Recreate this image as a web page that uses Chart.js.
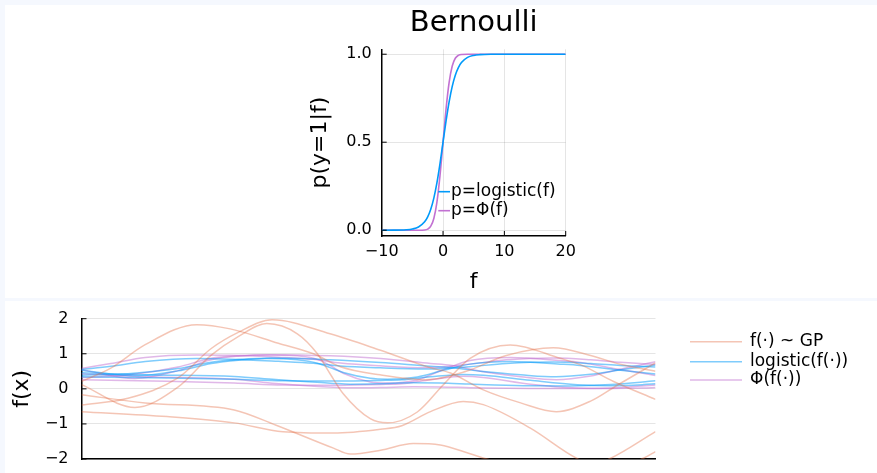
<!DOCTYPE html>
<html><head><meta charset="utf-8">
<script src="https://cdn.jsdelivr.net/npm/chart.js@4/dist/chart.umd.min.js"></script>
<style>
html,body{margin:0;padding:0;background:#f5f8fe;width:877px;height:473px;overflow:hidden;}
.panel{position:absolute;background:#fff;}
canvas{position:absolute;}
</style></head><body>
<div class="panel" style="left:5px;top:5px;width:872px;height:293px"></div>
<div class="panel" style="left:5px;top:301px;width:872px;height:172px"></div>
<canvas id="top" width="807" height="293" style="left:70px;top:5px"></canvas>
<canvas id="bottom" width="872" height="172" style="left:5px;top:301px"></canvas>
<script>
// ---------- top panel data ----------
const linkF = [-10,-8,-6,-5,-4,-3,-2.5,-2,-1.5,-1,-0.5,0,0.5,1,1.5,2,2.5,3,4,5,6,8,10,15,20];
const pLogistic = [0.00005,0.0003,0.0025,0.0067,0.018,0.0474,0.0759,0.1192,0.1824,0.2689,0.3775,0.5,0.6225,0.7311,0.8176,0.8808,0.9241,0.9526,0.982,0.9933,0.9975,0.9997,1,1,1];
const pProbit = [0,0,0,0,0.00003,0.00135,0.0062,0.0228,0.0668,0.1587,0.3085,0.5,0.6915,0.8413,0.9332,0.9772,0.9938,0.9987,1,1,1,1,1,1,1];
const topXTicks = [-10,0,10,20];
const topXLabels = ['\u221210','0','10','20'];
const topYTicks = [0,0.5,1];
const topYLabels = ['0.0','0.5','1.0'];
const topSeriesNames = ['p=logistic(f)','p=\u03A6(f)'];

// ---------- bottom panel data (x in % of input range) ----------
const gpX1 = [0,5.1,11.1,20.1,25.9,34.3,40.4,45.1,52,60,67,74,82.2,88.7,93.9,100];
const gpF1 = [0.21,0.59,1.26,1.83,1.71,1.3,1.0,0.63,0.4,0.26,0.5,0.95,1.17,0.95,0.7,0.5];
const gpLogistic1 = [0.5523,0.6434,0.7790,0.8618,0.8468,0.7858,0.7311,0.6525,0.5987,0.5646,0.6225,0.7211,0.7631,0.7211,0.6682,0.6225];
const gpPhi1 = [0.5832,0.7224,0.8962,0.9664,0.9564,0.9032,0.8413,0.7357,0.6554,0.6026,0.6915,0.8289,0.8790,0.8289,0.7580,0.6915];

const gpX2 = [0,8.1,16.8,22.6,27.3,33.2,43.3,52.1,60.8,64.3,70.0,76.5,82.7,88.7,93.4,100];
const gpF2 = [-0.46,-0.27,0.31,1.15,1.61,1.97,1.57,1.1,0.6,0.45,-0.03,-0.4,-0.65,-0.35,0.11,0.74];
const gpLogistic2 = [0.3870,0.4329,0.5769,0.7595,0.8334,0.8776,0.8278,0.7503,0.6457,0.6106,0.4925,0.4013,0.3430,0.4134,0.5275,0.6770];
const gpPhi2 = [0.3228,0.3936,0.6217,0.8749,0.9463,0.9756,0.9418,0.8643,0.7257,0.6736,0.4880,0.3446,0.2578,0.3632,0.5438,0.7704];

const gpX3 = [0,9.3,16.8,22.6,27.3,32.3,37.6,41.1,43.3,45.6,50.3,53.3,58.5,63.0,67.7,74.7,83.4,86.9,92.7,100];
const gpF3 = [0.12,-0.53,0.05,0.96,1.49,1.86,1.57,1.0,0.43,-0.14,-0.85,-0.97,-0.66,0.11,0.87,1.25,0.87,0.69,0.21,-0.3];
const gpLogistic3 = [0.5300,0.3705,0.5125,0.7231,0.8160,0.8653,0.8278,0.7311,0.6059,0.4651,0.2994,0.2749,0.3407,0.5275,0.7047,0.7773,0.7047,0.6660,0.5523,0.4256];
const gpPhi3 = [0.5478,0.2981,0.5199,0.8315,0.9319,0.9686,0.9418,0.8413,0.6664,0.4443,0.1977,0.1660,0.2546,0.5438,0.8078,0.8944,0.8078,0.7549,0.5832,0.3821];

const gpX4 = [0,11.1,26.6,33.8,43.9,46.8,52.1,57.8,62.5,67.7,70.6,78.2,85.0,92.2,100];
const gpF4 = [-0.17,-0.4,-0.6,-1.03,-1.69,-1.86,-1.75,-1.56,-1.6,-1.85,-2.0,-2.35,-2.4,-1.98,-1.22];
const gpLogistic4 = [0.4576,0.4013,0.3543,0.2631,0.1558,0.1347,0.1480,0.1736,0.1680,0.1359,0.1192,0.0871,0.0832,0.1213,0.2279];
const gpPhi4 = [0.4325,0.3446,0.2743,0.1515,0.0455,0.0314,0.0401,0.0594,0.0548,0.0322,0.0228,0.0094,0.0082,0.0239,0.1112];

const gpX5 = [0,14.9,26.6,35.1,43.9,52.1,55.8,60.8,66.5,70.0,78.2,86.4,92.2,97.9,100];
const gpF5 = [-0.65,-0.79,-0.97,-1.22,-1.26,-1.15,-1.05,-0.65,-0.36,-0.45,-1.12,-1.99,-2.3,-1.98,-1.79];
const gpLogistic5 = [0.3430,0.3122,0.2749,0.2279,0.2210,0.2405,0.2592,0.3430,0.4110,0.3894,0.2460,0.1203,0.0911,0.1213,0.1431];
const gpPhi5 = [0.2578,0.2148,0.1660,0.1112,0.1038,0.1251,0.1469,0.2578,0.3594,0.3264,0.1314,0.0233,0.0107,0.0239,0.0367];

const botYTicks = [-2,-1,0,1,2];
const botYLabels = ['\u22122','\u22121','0','1','2'];
const botSeriesNames = ['f(\u00B7) ~ GP','logistic(f(\u00B7))','\u03A6(f(\u00B7))'];

// ---------- helpers ----------
const FONT = '"DejaVu Sans", sans-serif';
const BLUE = '#009AFA', PURPLE = '#C271D2';
const GP_ORANGE = 'rgba(227,111,71,0.4)', GP_BLUE = 'rgba(0,154,250,0.5)', GP_PURPLE = 'rgba(194,113,210,0.5)';
const pts = (xs, ys) => xs.map((x, i) => ({x: x, y: ys[i]}));

const innerTicks = {
  id: 'innerTicks',
  afterDraw(chart, args, opts) {
    const ctx = chart.ctx, a = chart.chartArea, len = opts.len || 5;
    ctx.save();
    ctx.strokeStyle = '#000'; ctx.lineWidth = 1;
    (opts.axes || []).forEach(id => {
      const s = chart.scales[id];
      s.ticks.forEach(t => {
        const p = s.getPixelForValue(t.value);
        ctx.beginPath();
        if (id === 'y') { ctx.moveTo(a.left, p); ctx.lineTo(a.left + len, p); }
        else { ctx.moveTo(p, a.bottom); ctx.lineTo(p, a.bottom - len); }
        ctx.stroke();
      });
    });
    ctx.restore();
  }
};

const seriesKey = {
  id: 'seriesKey',
  afterDraw(chart, args, o) {
    if (!o || !o.items) return;
    const ctx = chart.ctx;
    ctx.save();
    ctx.font = o.fontSize + 'px ' + FONT;
    ctx.textBaseline = 'middle';
    ctx.textAlign = 'left';
    o.items.forEach((it, i) => {
      const y = o.ys[i];
      ctx.strokeStyle = it.color; ctx.lineWidth = it.width;
      ctx.beginPath(); ctx.moveTo(o.x0, y); ctx.lineTo(o.x1, y); ctx.stroke();
      ctx.fillStyle = '#000';
      ctx.fillText(it.text, o.tx, y);
    });
    ctx.restore();
  }
};

const tickFont = {family: FONT, size: 16};
const guideFont = {family: FONT, size: 22};
const GRID = 'rgba(0,0,0,0.1)';
const noPad = s => { s.paddingTop = 0; s.paddingBottom = 0; };

// ---------- top chart ----------
new Chart(document.getElementById('top'), {
  type: 'line',
  data: {datasets: [
    {label: topSeriesNames[0], data: pts(linkF, pLogistic), borderColor: BLUE, borderWidth: 1.6, pointRadius: 0, cubicInterpolationMode: 'monotone', fill: false},
    {label: topSeriesNames[1], data: pts(linkF, pProbit), borderColor: PURPLE, borderWidth: 1.6, pointRadius: 0, cubicInterpolationMode: 'monotone', fill: false}
  ]},
  options: {
    responsive: false, animation: false, devicePixelRatio: 1,
    layout: {padding: {left: 230, right: 311.3, top: 0, bottom: 2.8}},
    plugins: {
      legend: {display: false}, tooltip: {enabled: false},
      title: {display: true, fullSize: false, text: 'Bernoulli', color: '#000', font: {family: FONT, size: 29, weight: 'normal'}, padding: {top: 1, bottom: 8.5}},
      innerTicks: {axes: ['x', 'y'], len: 5},
      seriesKey: {fontSize: 17, x0: 368.3, x1: 380, tx: 381, ys: [186.7, 205.7],
        items: [{text: topSeriesNames[0], color: BLUE, width: 1.6}, {text: topSeriesNames[1], color: PURPLE, width: 1.6}]}
    },
    scales: {
      x: {type: 'linear', min: -10, max: 20,
        afterBuildTicks: s => { s.ticks = topXTicks.map(v => ({value: v})); },
        ticks: {callback: (v, i) => topXLabels[i], font: tickFont, color: '#000', padding: 6, maxRotation: 0, autoSkip: false},
        grid: {color: GRID, drawTicks: false},
        border: {color: '#000', width: 1.5},
        title: {display: true, text: 'f', color: '#000', font: guideFont, padding: {top: 0, bottom: 0}},
        afterFit: s => { s.height = 59.2; }},
      y: {type: 'linear', min: -0.033, max: 1.028,
        afterBuildTicks: s => { s.ticks = topYTicks.map(v => ({value: v})); },
        ticks: {callback: (v, i) => topYLabels[i], font: tickFont, color: '#000', padding: 10, autoSkip: false},
        grid: {color: GRID, drawTicks: false},
        border: {color: '#000', width: 1.5},
        title: {display: true, text: 'p(y=1|f)', color: '#000', font: guideFont, padding: {top: 6.8, bottom: 0}},
        afterFit: s => { s.width = 81.7; noPad(s); }}
    }
  },
  plugins: [innerTicks, seriesKey]
});

// ---------- bottom chart ----------
const gpSets = [
  [gpX1, gpF1, gpLogistic1, gpPhi1],
  [gpX2, gpF2, gpLogistic2, gpPhi2],
  [gpX3, gpF3, gpLogistic3, gpPhi3],
  [gpX4, gpF4, gpLogistic4, gpPhi4],
  [gpX5, gpF5, gpLogistic5, gpPhi5]
];
const mk = (label, data, color) => ({label: label, data: data, borderColor: color, borderWidth: 1.5, pointRadius: 0, cubicInterpolationMode: 'monotone', fill: false});
const botDatasets = [];
gpSets.forEach(s => botDatasets.push(mk(botSeriesNames[0], pts(s[0], s[1]), GP_ORANGE)));
gpSets.forEach(s => botDatasets.push(mk(botSeriesNames[1], pts(s[0], s[2]), GP_BLUE)));
gpSets.forEach(s => botDatasets.push(mk(botSeriesNames[2], pts(s[0], s[3]), GP_PURPLE)));

new Chart(document.getElementById('bottom'), {
  type: 'line',
  data: {datasets: botDatasets},
  options: {
    responsive: false, animation: false, devicePixelRatio: 1,
    layout: {padding: {left: 0, right: 221.5, top: 17.7, bottom: 14}},
    plugins: {
      legend: {display: false}, tooltip: {enabled: false},
      innerTicks: {axes: ['y'], len: 5},
      seriesKey: {fontSize: 17, x0: 685, x1: 737, tx: 745, ys: [40.7, 60.7, 79],
        items: [{text: botSeriesNames[0], color: GP_ORANGE, width: 1.5}, {text: botSeriesNames[1], color: GP_BLUE, width: 1.5}, {text: botSeriesNames[2], color: GP_PURPLE, width: 1.5}]}
    },
    scales: {
      x: {type: 'linear', min: 0, max: 100,
        ticks: {display: false},
        grid: {display: false, drawTicks: false},
        border: {display: true, color: '#000', width: 1.5},
        afterFit: s => { s.height = 0; }},
      y: {type: 'linear', min: -2, max: 2,
        afterBuildTicks: s => { s.ticks = botYTicks.map(v => ({value: v})); },
        ticks: {callback: (v, i) => botYLabels[i], font: tickFont, color: '#000', padding: 13, autoSkip: false},
        grid: {color: GRID, drawTicks: false},
        border: {color: '#000', width: 1.5},
        title: {display: true, text: 'f(x)', color: '#000', font: guideFont, padding: {top: 4.3, bottom: 0}},
        afterFit: s => { s.width = 76.5; noPad(s); }}
    }
  },
  plugins: [innerTicks, seriesKey]
});
</script>
</body></html>
